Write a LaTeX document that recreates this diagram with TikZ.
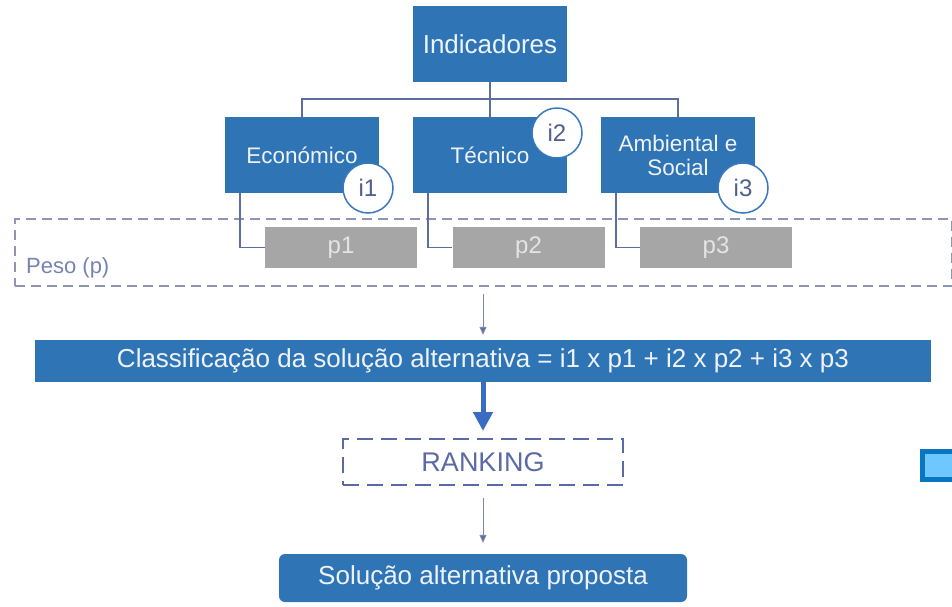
\documentclass[tikz,border=0pt]{standalone}
\usepackage{fontspec}
\setmainfont{Liberation Sans}
\usetikzlibrary{arrows.meta}
\definecolor{boxblue}{HTML}{2F74B5}
\definecolor{boxtext}{HTML}{EEF3FA}
\definecolor{grayfill}{HTML}{A6A6A6}
\definecolor{graytext}{HTML}{E4E4E4}
\definecolor{connline}{HTML}{5E6E9C}
\definecolor{dashcol}{HTML}{8C95B6}
\definecolor{pesotext}{HTML}{7682B2}
\definecolor{circblue}{HTML}{3A78BE}
\definecolor{circtext}{HTML}{4F5F8E}
\definecolor{rankcol}{HTML}{5B6AA5}
\definecolor{arrowblue}{HTML}{3B6CC4}
\definecolor{thinarr}{HTML}{7A86AE}
\definecolor{iconborder}{HTML}{0B76C0}
\definecolor{iconfill}{HTML}{6EC8FF}
\begin{document}
\begin{tikzpicture}[x=1pt,y=-1pt,
  bluebox/.style={fill=boxblue, draw=none, text=boxtext, minimum width=154pt, minimum height=76pt, inner sep=0pt, align=center, font=\fontsize{22.5}{24}\selectfont},
  graybox/.style={fill=grayfill, draw=none, text=graytext, minimum width=152pt, minimum height=41pt, inner sep=0pt, font=\fontsize{24}{28}\selectfont},
  circ/.style={circle, fill=white, draw=circblue, line width=1.5pt, minimum size=50pt, inner sep=0pt, text=circtext, font=\fontsize{24}{28}\selectfont},
  conn/.style={draw=connline, line width=1.5pt},
  dashbox/.style={draw=dashcol, line width=2pt, dash pattern=on 10pt off 6pt, minimum width=937pt, minimum height=67pt, inner sep=0pt},
  rankbox/.style={draw=rankcol, line width=2pt, dash pattern=on 16pt off 8pt, minimum width=280pt, minimum height=46pt, inner sep=0pt, text=rankcol, font=\fontsize{27}{30}\selectfont},
  thinarrow/.style={draw=thinarr, line width=1pt, -{Triangle[length=8pt,width=7pt,fill=connline]}},
  thickarrow/.style={draw=arrowblue, line width=5pt, -{Triangle[length=19pt,width=19pt]}}
]
\useasboundingbox (0,0) rectangle (952,606);

% dashed weight frame
\node[dashbox] (peso) at (483,252.5) {};
\node[anchor=west, text=pesotext, font=\fontsize{22}{26}\selectfont, inner sep=0pt] (pesolbl) at (26,268) {Peso (p)};

% boxes
\node[bluebox, font=\fontsize{26}{30}\selectfont] (ind) at (490,44) {Indicadores};
\node[bluebox] (eco) at (302,155) {Económico};
\node[bluebox] (tec) at (490,155) {Técnico};
\node[bluebox] (amb) at (678,155) {Ambiental e\\Social};

\coordinate (hy) at (490,99);
\draw[conn] (ind.south) -- (tec.north);
\draw[conn] (eco.north) |- (hy) -| (amb.north);

% weight boxes
\node[graybox] (p1) at (341,247.5) {p1};
\node[graybox] (p2) at (528.5,247.5) {p2};
\node[graybox] (p3) at (716,247.5) {p3};

\draw[conn] ([xshift=-62pt]eco.south) |- (p1.west);
\draw[conn] ([xshift=-62pt]tec.south) |- (p2.west);
\draw[conn] ([xshift=-62pt]amb.south) |- (p3.west);

% indicator circles
\node[circ] (c1) at (368,188) {i1};
\node[circ] (c2) at (557,133) {i2};
\node[circ] (c3) at (743,188) {i3};

% classification bar
\node[fill=boxblue, text=boxtext, minimum width=896pt, minimum height=42pt, inner sep=0pt, font=\fontsize{26}{30}\selectfont] (cls) at (483,361) {Classificação da solução alternativa = i1 x p1 + i2 x p2 + i3 x p3};

\draw[thinarrow, shorten <=7pt, shorten >=5pt] (peso.south) -- (cls.north);

% ranking
\node[rankbox] (rank) at (483,462) {RANKING};
\draw[thickarrow, shorten >=7pt] (cls.south) -- (rank.north);

% proposed solution
\node[fill=boxblue, text=boxtext, rounded corners=6pt, minimum width=408pt, minimum height=48pt, inner sep=0pt, font=\fontsize{26}{30}\selectfont] (sol) at (483,578) {Solução alternativa proposta};
\draw[thinarrow, shorten <=12pt, shorten >=11pt] (rank.south) -- (sol.north);

% small icon at right edge
\path[draw=iconborder, line width=5pt, fill=iconfill] (922.5,451.5) rectangle (962,479.5);
\end{tikzpicture}
\end{document}
